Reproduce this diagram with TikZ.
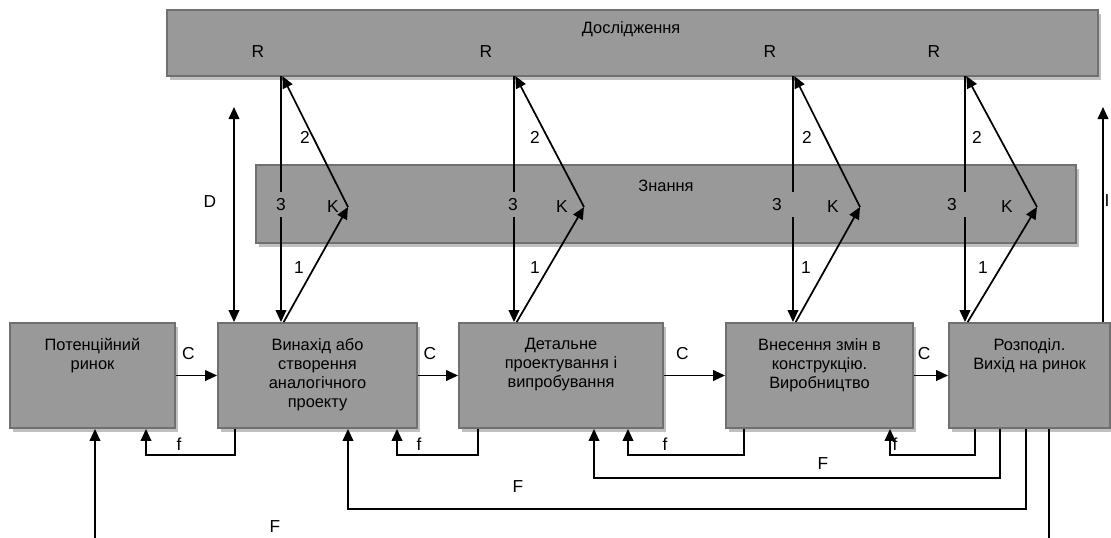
\documentclass[tikz,border=0pt]{standalone}
\usepackage{fontspec}
\setmainfont{Liberation Sans}
\usetikzlibrary{arrows.meta,positioning,shadows}
\definecolor{boxgray}{HTML}{999999}
\definecolor{boxline}{HTML}{707070}
\definecolor{shadowgray}{HTML}{C0C0C0}
\tikzset{
  blok/.style={draw=boxline, line width=1.4pt, fill=boxgray, inner sep=0pt,
    drop shadow={shadow xshift=2.2pt, shadow yshift=-3pt, fill=shadowgray, opacity=1}},
  napys/.style={align=center, inner sep=0pt},
  mitka/.style={inner sep=1pt, font=\fontsize{13pt}{15pt}\selectfont},
  liniya/.style={line width=1.3pt},
  strilka/.style={line width=1.3pt, -{Triangle[length=9pt,width=8pt]}},
  dvi/.style={line width=1.3pt, {Triangle[length=9pt,width=8pt]}-{Triangle[length=9pt,width=8pt]}},
}

\begin{document}
\begin{tikzpicture}[x=0.75pt,y=-0.75pt,font=\fontsize{12.3pt}{14.2pt}\selectfont]
\useasboundingbox (0,0) rectangle (1111,537);

% блоки
\node[blok, minimum width=698.25pt, minimum height=49.5pt] (doslid) at (632.5,43) {};
\node[blok, minimum width=615pt, minimum height=58.5pt] (znannya) at (666,204) {};
\node[blok, minimum width=123.75pt, minimum height=78.75pt] (rynok) at (92.5,375.5) {};
\node[blok, minimum width=149.25pt, minimum height=78.75pt] (vynahid) at (317.5,375.5) {};
\node[blok, minimum width=153pt, minimum height=78.75pt] (proekt) at (561,375.5) {};
\node[blok, minimum width=140.25pt, minimum height=78.75pt] (vyrob) at (819.5,375.5) {};
\node[blok, minimum width=120.75pt, minimum height=78.75pt] (rozpodil) at (1029.5,375.5) {};

% написи в блоках
\node[napys, below=9.4pt of doslid.north, xshift=-1pt] (tdoslid) {Дослідження};
\node[napys, below=12pt of znannya.north] (tznannya) {Знання};
\node[napys, below=12pt of rynok.north] (trynok) {Потенційний\\ринок};
\node[napys, below=12pt of vynahid.north] (tvynahid) {Винахід або\\створення\\аналогічного\\проекту};
\node[napys, below=12pt of proekt.north] (tproekt) {Детальне\\проектування і\\випробування};
\node[napys, below=12pt of vyrob.north] (tvyrob) {Внесення змін в\\конструкцію.\\Виробництво};
\node[napys, below=12pt of rozpodil.north] (trozpodil) {Розподіл.\\Вихід на ринок};

% ланки R -- K
\foreach \n/\xv/\xk/\xr/\xz/\xkl/\xo/\xt/\bl in {1/281/348/258/281/333/299/305/vynahid,
    2/514/584/486/513/562/535/535/proekt, 3/793/860/770/777/833/806/807/vyrob,
    4/965/1037/934/952/1007/983/977/rozpodil}{
  \coordinate (v\n) at (\xv,76);
  \coordinate (za\n) at (\xv,192);
  \coordinate (zb\n) at (\xv,217);
  \coordinate (k\n) at (\xk,207);
  \node[mitka] (r\n) at (\xr,52) {R};
  \node[mitka] (z\n) at (\xz,205) {3};
  \node[mitka] (kl\n) at (\xkl,207) {K};
  \node[mitka] (o\n) at (\xo,268) {1};
  \node[mitka] (t\n) at (\xt,137) {2};
  \draw[liniya] (v\n) -- (za\n);
  \draw[strilka] (zb\n) -- (\bl.north -| v\n);
  \draw[strilka] ([xshift=2pt]\bl.north -| v\n) -- (k\n);
  \draw[strilka] (k\n) -- ([xshift=1pt]v\n);
}

% D та I
\coordinate (dtop) at (234,107);
\draw[dvi] (dtop) -- (vynahid.north -| dtop);
\node[mitka] (dl) at (210,202) {D};
\coordinate (itop) at (1103,107);
\draw[strilka] (rozpodil.north -| itop) -- (itop);
\node[mitka] (il) at (1107,201) {I};

% ланцюг C
\draw[strilka] (rynok.east) -- (vynahid.west) node[mitka, pos=0.3, above=10pt] (c1) {C};
\draw[strilka] (vynahid.east) -- (proekt.west) node[mitka, pos=0.3, above=10pt] (c2) {C};
\draw[strilka] (proekt.east) -- (vyrob.west) node[mitka, pos=0.3, above=10pt] (c3) {C};
\draw[strilka] (vyrob.east) -- (rozpodil.west) node[mitka, pos=0.3, above=10pt] (c4) {C};

% зворотні зв'язки f
\foreach \a/\b/\xs/\xe/\xf/\n in {vynahid/rynok/235/146/179/1, proekt/vynahid/478/397/419/2,
    vyrob/proekt/744/628/665/3, rozpodil/vyrob/975/890/895/4}{
  \coordinate (fa\n) at (\xs,455);
  \coordinate (fb\n) at (\xe,455);
  \draw[strilka] (\a.south -| fa\n) -- (fa\n) -- (fb\n) -- (\b.south -| fb\n);
  \node[mitka] (fl\n) at (\xf,444) {f};
}

% зворотні зв'язки F
\coordinate (Fa1) at (1000,478);
\coordinate (Fb1) at (594,478);
\draw[strilka] (rozpodil.south -| Fa1) -- (Fa1) -- (Fb1) -- (proekt.south -| Fb1);
\node[mitka] (Fl1) at (823,464) {F};
\coordinate (Fa2) at (1026,509);
\coordinate (Fb2) at (348,509);
\draw[strilka] (rozpodil.south -| Fa2) -- (Fa2) -- (Fb2) -- (vynahid.south -| Fb2);
\node[mitka] (Fl2) at (518,487) {F};
\coordinate (vyhid) at (1049,540);
\draw[liniya] (rozpodil.south -| vyhid) -- (vyhid);
\coordinate (popyt) at (95,540);
\draw[strilka] (popyt) -- (rynok.south -| popyt);
\node[mitka] (Fl3) at (275,527) {F};
\end{tikzpicture}
\end{document}
